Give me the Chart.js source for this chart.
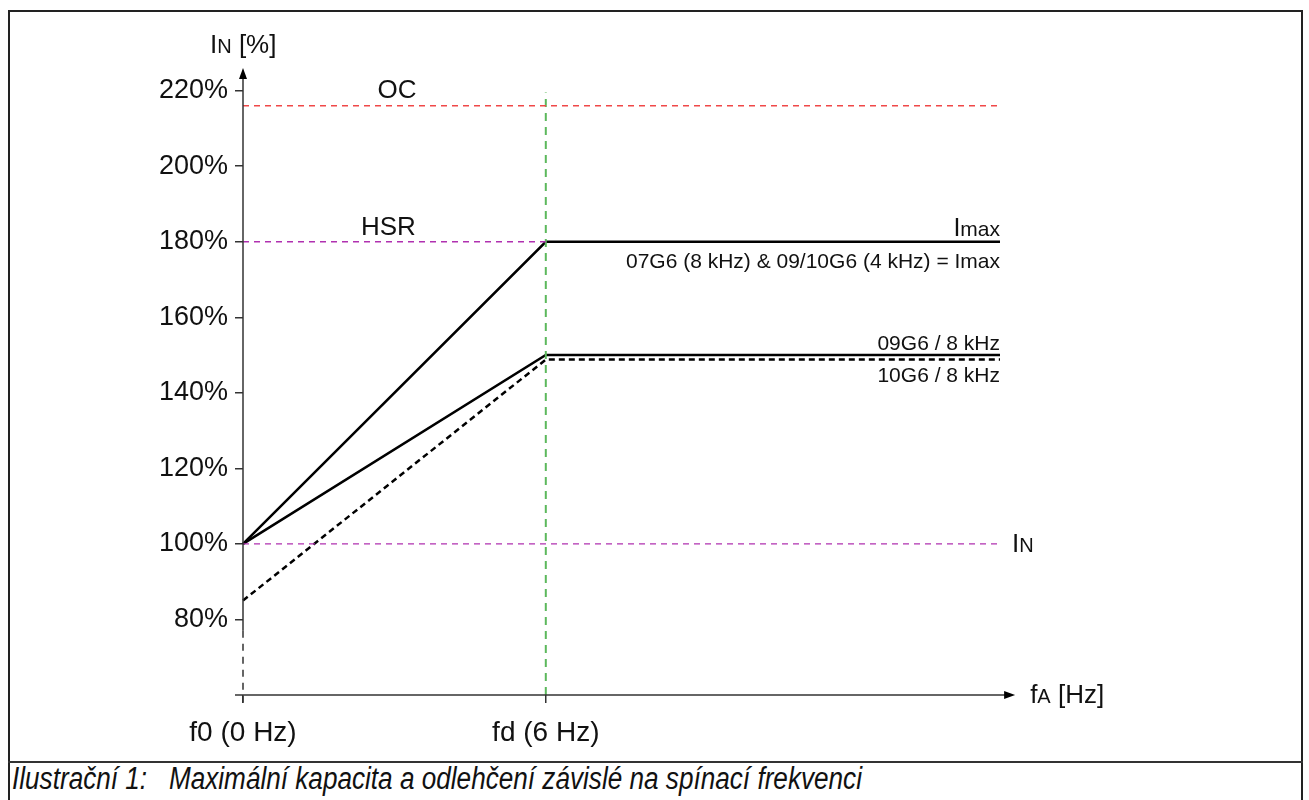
<!DOCTYPE html>
<html>
<head>
<meta charset="utf-8">
<script src="https://cdn.jsdelivr.net/npm/chart.js@4.4.1/dist/chart.umd.min.js"></script>
<style>
  html, body { margin: 0; padding: 0; background: #fff; }
  body { width: 1309px; height: 800px; position: relative; overflow: hidden; }
  #frame { position: absolute; left: 8px; top: 10px; width: 1295px; height: 820px; border: 2px solid #222; box-sizing: border-box; }
  #sep { position: absolute; left: 8px; top: 761px; width: 1295px; height: 2px; background: #333; }
  #caption { position: absolute; left: 12px; top: 761px; font-family: "Liberation Sans Narrow", "Liberation Sans", Arial, sans-serif; font-style: italic; font-size: 31px; color: #111; white-space: pre; transform-origin: 0 0; }
  #wrap { position: absolute; left: 0; top: 0; width: 1309px; height: 800px; }
</style>
</head>
<body>
<div id="frame"></div>
<div id="sep"></div>
<div id="caption">Ilustrační 1:   Maximální kapacita a odlehčení závislé na spínací frekvenci</div>
<div id="wrap"><canvas id="chart" width="1309" height="800"></canvas></div>
<script>
"use strict";

// frequency points [Hz]
var freqPoints = [0, 6, 15];
// current in % of IN
var imaxPct = [100, 180, 180];
var g09Pct = [100, 150, 150];
var g10Pct = [85, 148.8, 148.8];

var ocLevel = 216;
var hsrLevel = 180;
var inLevel = 100;
var fdFreq = 6;
var fdTop = 219.5;

var yTicks = [80, 100, 120, 140, 160, 180, 200, 220];
var xTicks = [0, 6];
var xTickLabels = ["f0 (0 Hz)", "fd (6 Hz)"];

var FONT = "'Liberation Sans', Arial, sans-serif";
var AXIS_COLOR = "#333";

// squeeze the caption to the width of the original
var cap = document.getElementById("caption");
cap.style.transform = "scaleX(" + (850 / cap.offsetWidth) + ")";

function pts(xs, ys) {
  return xs.map(function(x, i) { return { x: x, y: ys[i] }; });
}

function drawArrow(ctx, x, y, dir) {
  ctx.beginPath();
  if (dir === "up") {
    ctx.moveTo(x, y);
    ctx.lineTo(x - 4, y + 11);
    ctx.lineTo(x + 4, y + 11);
  } else {
    ctx.moveTo(x, y);
    ctx.lineTo(x - 11, y - 4);
    ctx.lineTo(x - 11, y + 4);
  }
  ctx.closePath();
  ctx.fill();
}

// runs of text with their own sizes, on one baseline; returns end x
function runs(ctx, x, y, parts, align) {
  var total = 0;
  parts.forEach(function(p) {
    ctx.font = p[1] + "px " + FONT;
    p.w = ctx.measureText(p[0]).width;
    total += p.w;
  });
  var cx = align === "right" ? x - total : x;
  ctx.textAlign = "left";
  ctx.textBaseline = "alphabetic";
  parts.forEach(function(p) {
    ctx.font = p[1] + "px " + FONT;
    ctx.fillText(p[0], cx, y);
    cx += p.w;
  });
  return cx;
}

var axesPlugin = {
  id: "axesAndLabels",
  afterDraw: function(chart) {
    var ctx = chart.ctx;
    var xs = chart.scales.x;
    var ys = chart.scales.y;
    var x0 = xs.getPixelForValue(0);
    var yBase = ys.getPixelForValue(ys.min);
    var yTop = chart.chartArea.top;

    ctx.save();
    ctx.strokeStyle = AXIS_COLOR;
    ctx.lineWidth = 1.5;

    // y axis: solid part with arrow, dashed part near the origin
    var ySplit = ys.getPixelForValue(77);
    ctx.beginPath();
    ctx.moveTo(x0, ySplit);
    ctx.lineTo(x0, yTop + 6);
    ctx.stroke();
    ctx.setLineDash([7, 6]);
    ctx.beginPath();
    ctx.moveTo(x0, ySplit);
    ctx.lineTo(x0, yBase + 8);
    ctx.stroke();
    ctx.setLineDash([]);
    ctx.fillStyle = "#000";
    drawArrow(ctx, x0, yTop, "up");

    // x axis with arrow
    var xEnd = xs.getPixelForValue(15.3);
    ctx.beginPath();
    ctx.moveTo(x0 - 8, yBase);
    ctx.lineTo(xEnd - 6, yBase);
    ctx.stroke();
    drawArrow(ctx, xEnd, yBase, "right");

    // labels
    ctx.fillStyle = "#111";
    ctx.font = "26px " + FONT;
    ctx.textBaseline = "alphabetic";
    ctx.textAlign = "center";
    ctx.fillText("OC", xs.getPixelForValue(3.05), ys.getPixelForValue(ocLevel) - 8);
    ctx.fillText("HSR", xs.getPixelForValue(2.88), ys.getPixelForValue(hsrLevel) - 7);

    var xr = xs.getPixelForValue(15);
    runs(ctx, xr, ys.getPixelForValue(hsrLevel) - 6, [["I", 25], ["max", 21]], "right");
    runs(ctx, xr, ys.getPixelForValue(hsrLevel) + 26, [["07G6 (8 kHz) & 09/10G6 (4 kHz) = Imax", 21]], "right");
    runs(ctx, xr, ys.getPixelForValue(150) - 5, [["09G6 / 8 kHz", 21]], "right");
    runs(ctx, xr, ys.getPixelForValue(148.8) + 22, [["10G6 / 8 kHz", 21]], "right");

    runs(ctx, xr + 12, ys.getPixelForValue(inLevel) + 8, [["I", 26], ["N", 20]], "left");
    runs(ctx, xEnd + 15, yBase + 8, [["f", 26], ["A", 20], [" [Hz]", 26]], "left");
    runs(ctx, x0 - 33, 53, [["I", 26], ["N", 20], [" [%]", 26]], "left");
    ctx.restore();
  }
};

function lineSet(label, data, color, width, dash) {
  return {
    label: label,
    data: data,
    borderColor: color,
    backgroundColor: color,
    borderWidth: width,
    borderDash: dash || [],
    pointRadius: 0,
    fill: false,
    tension: 0,
    clip: false
  };
}

var chart = new Chart(document.getElementById("chart"), {
  type: "line",
  data: {
    datasets: [
      lineSet("OC", pts([0, 15], [ocLevel, ocLevel]), "#f04848", 1.5, [6, 5]),
      lineSet("HSR", pts([0, 6], [hsrLevel, hsrLevel]), "#b030b0", 1.4, [6, 5]),
      lineSet("IN", pts([0, 15], [inLevel, inLevel]), "#b030b0", 1.4, [6, 5]),
      lineSet("fd", pts([fdFreq, fdFreq], [60, fdTop]), "#5cb85c", 2, [8, 6]),
      lineSet("Imax", pts(freqPoints, imaxPct), "#000", 2.5),
      lineSet("09G6 / 8 kHz", pts(freqPoints, g09Pct), "#000", 2.5),
      lineSet("10G6 / 8 kHz", pts(freqPoints, g10Pct), "#000", 2.5, [6, 4])
    ]
  },
  options: {
    responsive: false,
    animation: false,
    layout: { padding: { top: 68, right: 309, left: 0, bottom: 0 } },
    plugins: {
      legend: { display: false },
      tooltip: { enabled: false }
    },
    scales: {
      x: {
        type: "linear",
        min: 0,
        max: 15,
        afterBuildTicks: function(scale) {
          scale.ticks = xTicks.map(function(v) { return { value: v }; });
        },
        afterFit: function(scale) { scale.height = 105; },
        border: { display: false },
        grid: { drawOnChartArea: false, tickLength: 8, color: AXIS_COLOR, lineWidth: 1.5 },
        ticks: {
          autoSkip: false,
          maxRotation: 0,
          padding: 13,
          color: "#111",
          font: { family: FONT, size: 28 },
          callback: function(v) { return xTickLabels[xTicks.indexOf(v)]; }
        }
      },
      y: {
        type: "linear",
        min: 60,
        max: 226,
        afterBuildTicks: function(scale) {
          scale.ticks = yTicks.map(function(v) { return { value: v }; });
        },
        afterFit: function(scale) { scale.width = 243; },
        border: { display: false },
        grid: { drawOnChartArea: false, tickLength: 8, color: AXIS_COLOR, lineWidth: 1.5 },
        ticks: {
          padding: 7,
          color: "#111",
          font: { family: FONT, size: 27 },
          callback: function(v) { return v + "%"; }
        }
      }
    }
  },
  plugins: [axesPlugin]
});
</script>
</body>
</html>
